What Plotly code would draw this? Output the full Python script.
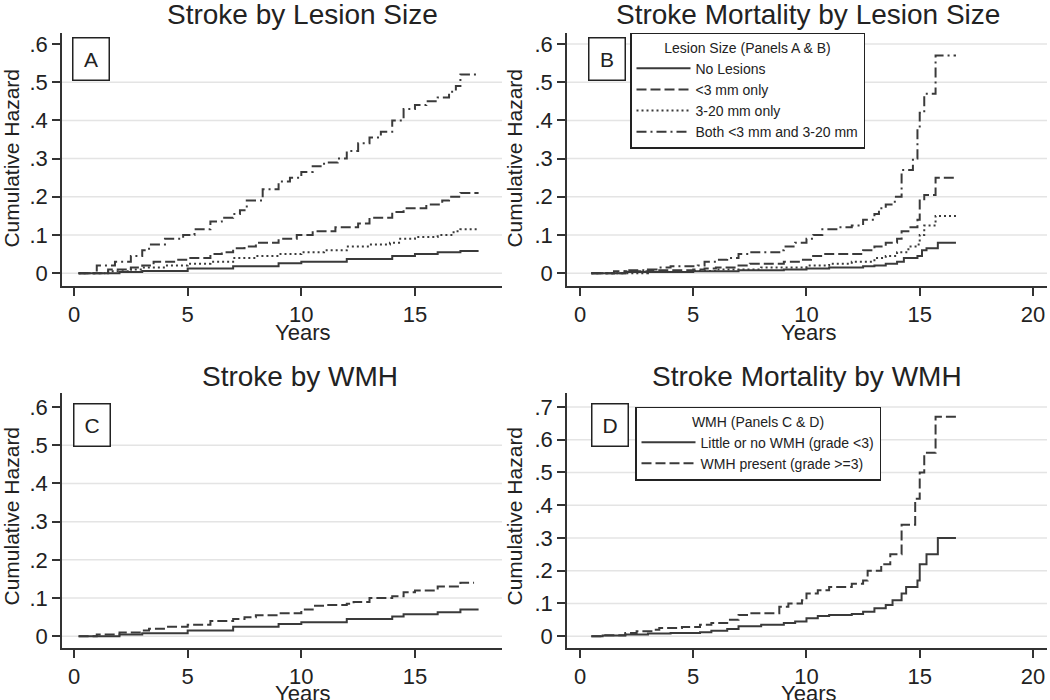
import plotly.graph_objects as go

# ---- data (years, cumulative hazard) ----
# Panel A: stroke by lesion size
a_none_t = [0.2, 2.0, 3.0, 5.0, 7.0, 9.0, 10.0, 12.0, 14.0, 15.0, 16.0, 17.0, 17.8]
a_none_h = [0, 0.003, 0.006, 0.012, 0.018, 0.026, 0.030, 0.037, 0.045, 0.050, 0.055, 0.058, 0.058]
a_small_t = [0.2, 1.5, 2.5, 3.0, 3.5, 4.5, 5.0, 6.0, 6.5, 7.0, 7.5, 8.0, 9.0, 9.8, 10.5,
             11.5, 12.5, 13.0, 14.0, 14.5, 15.5, 16.2, 16.5, 17.0, 17.8]
a_small_h = [0, 0.01, 0.015, 0.02, 0.03, 0.035, 0.04, 0.05, 0.055, 0.065, 0.07, 0.08, 0.09, 0.10,
             0.11, 0.12, 0.13, 0.145, 0.16, 0.17, 0.18, 0.19, 0.20, 0.21, 0.21]
a_mid_t = [0.2, 1.5, 2.5, 3.0, 4.0, 5.0, 6.0, 7.0, 8.0, 9.0, 10.0, 11.0, 12.0, 13.0, 13.9,
           14.3, 15.0, 16.0, 16.7, 17.0, 17.8]
a_mid_h = [0, 0.005, 0.01, 0.015, 0.02, 0.025, 0.03, 0.04, 0.045, 0.05, 0.055, 0.06, 0.07, 0.075,
           0.08, 0.09, 0.095, 0.10, 0.11, 0.115, 0.115]
a_both_t = [0.2, 1.0, 1.8, 2.5, 3.0, 3.3, 4.0, 4.8, 5.3, 6.0, 6.5, 7.0, 7.3, 7.6, 8.3, 9.0, 9.5,
            10.0, 10.5, 11.0, 11.6, 12.0, 12.5, 13.0, 13.5, 14.0, 14.5, 15.0, 15.5, 16.0, 16.5,
            16.8, 17.0, 17.8]
a_both_h = [0, 0.02, 0.03, 0.045, 0.06, 0.075, 0.09, 0.10, 0.115, 0.135, 0.145, 0.155, 0.165,
            0.19, 0.22, 0.24, 0.25, 0.265, 0.28, 0.29, 0.30, 0.32, 0.34, 0.355, 0.37, 0.40, 0.43,
            0.44, 0.45, 0.46, 0.475, 0.49, 0.52, 0.52]

# Panel B: stroke mortality by lesion size
b_none_t = [0.5, 2.0, 5.0, 7.0, 9.0, 10.0, 11.0, 12.5, 13.0, 13.5, 14.0, 14.3, 14.9, 15.1,
            15.3, 15.8, 16.6]
b_none_h = [0, 0.003, 0.005, 0.008, 0.01, 0.012, 0.015, 0.018, 0.02, 0.025, 0.03, 0.04, 0.045,
            0.06, 0.065, 0.08, 0.08]
b_small_t = [0.5, 2.0, 3.0, 5.0, 5.5, 6.0, 7.0, 7.5, 9.0, 9.8, 10.2, 10.7, 12.5, 13.0, 13.5,
             14.0, 14.2, 14.5, 14.9, 15.0, 15.2, 15.7, 16.6]
b_small_h = [0, 0.005, 0.008, 0.01, 0.012, 0.015, 0.02, 0.025, 0.03, 0.035, 0.045, 0.05, 0.06,
             0.07, 0.08, 0.09, 0.11, 0.12, 0.14, 0.19, 0.205, 0.25, 0.25]
b_mid_t = [0.5, 3.0, 5.0, 6.0, 8.0, 10.0, 11.0, 12.0, 13.0, 13.5, 14.0, 14.5, 14.9, 15.0,
           15.2, 15.7, 16.6]
b_mid_h = [0, 0.003, 0.006, 0.01, 0.015, 0.02, 0.025, 0.03, 0.04, 0.045, 0.055, 0.07, 0.075,
           0.10, 0.125, 0.15, 0.15]
b_both_t = [0.5, 1.5, 2.0, 3.0, 3.5, 4.0, 5.2, 5.5, 6.0, 6.5, 7.0, 7.5, 8.8, 9.0, 9.5, 10.0,
            10.3, 10.7, 11.5, 12.0, 12.5, 13.0, 13.2, 13.5, 13.9, 14.2, 14.7, 14.9, 15.0, 15.2,
            15.7, 16.6]
b_both_h = [0, 0.005, 0.008, 0.01, 0.015, 0.018, 0.02, 0.03, 0.035, 0.04, 0.05, 0.055, 0.06,
            0.07, 0.08, 0.09, 0.10, 0.115, 0.12, 0.125, 0.14, 0.155, 0.17, 0.18, 0.20, 0.27,
            0.30, 0.38, 0.42, 0.47, 0.57, 0.57]

# Panel C: stroke by WMH
c_low_t = [0.2, 2.0, 3.0, 5.0, 7.0, 9.0, 10.0, 12.0, 14.0, 14.5, 16.0, 17.0, 17.8]
c_low_h = [0, 0.005, 0.008, 0.015, 0.025, 0.032, 0.037, 0.045, 0.052, 0.058, 0.063, 0.07, 0.07]
c_high_t = [0.2, 1.0, 2.0, 3.0, 3.3, 4.0, 5.0, 6.0, 7.0, 7.5, 8.0, 9.0, 10.0, 10.5, 11.0, 12.0,
            12.3, 13.0, 14.0, 14.5, 15.0, 16.0, 17.0, 17.6]
c_high_h = [0, 0.005, 0.01, 0.015, 0.02, 0.025, 0.03, 0.04, 0.045, 0.05, 0.055, 0.06, 0.07, 0.08,
            0.082, 0.085, 0.09, 0.10, 0.105, 0.115, 0.12, 0.13, 0.14, 0.14]

# Panel D: stroke mortality by WMH
d_low_t = [0.5, 1.0, 2.0, 3.0, 4.0, 5.3, 5.8, 6.5, 7.0, 8.0, 9.0, 9.5, 10.0, 10.5, 11.0, 12.0,
           12.5, 13.0, 13.5, 13.8, 14.2, 14.4, 14.9, 15.0, 15.3, 15.8, 16.6]
d_low_h = [0, 0.002, 0.005, 0.008, 0.01, 0.012, 0.017, 0.022, 0.03, 0.035, 0.04, 0.045, 0.055,
           0.062, 0.065, 0.068, 0.075, 0.085, 0.095, 0.11, 0.13, 0.15, 0.17, 0.22, 0.25, 0.30, 0.30]
d_high_t = [0.5, 1.0, 2.0, 2.5, 3.3, 3.5, 4.5, 5.3, 5.8, 6.5, 7.0, 7.5, 8.8, 9.2, 9.8, 10.0,
            10.5, 11.0, 12.0, 12.5, 12.7, 13.3, 13.7, 14.2, 14.8, 15.0, 15.2, 15.7, 16.6]
d_high_h = [0, 0.003, 0.01, 0.015, 0.02, 0.025, 0.028, 0.035, 0.04, 0.05, 0.065, 0.07, 0.09, 0.10,
            0.11, 0.13, 0.14, 0.15, 0.16, 0.17, 0.20, 0.22, 0.25, 0.34, 0.42, 0.50, 0.56, 0.67, 0.67]

lesion_names = ["No Lesions", "&lt;3 mm only", "3-20 mm only", "Both &lt;3 mm and 3-20 mm"]
wmh_names = ["Little or no WMH (grade &lt;3)", "WMH present (grade &gt;=3)"]
titles = ["Stroke by Lesion Size", "Stroke Mortality by Lesion Size",
          "Stroke by WMH", "Stroke Mortality by WMH"]
panel_letters = ["A", "B", "C", "D"]
ticks6 = [0, 0.1, 0.2, 0.3, 0.4, 0.5, 0.6]
ticks7 = [0, 0.1, 0.2, 0.3, 0.4, 0.5, 0.6, 0.7]

FONT = "Liberation Sans, Arial, sans-serif"
INK = "#3a3a3a"
DASHES = ["solid", "10px,4px", "2px,3px", "10px,4px,2px,4px"]

W, H = 1050, 700


def px(x, y):
    return x / W, 1 - y / H


fig = go.Figure()


def add_curve(t, h, name, dash, ax, legend=None):
    fig.add_trace(go.Scatter(
        x=t, y=h, mode="lines", name=name, line_shape="hv",
        line=dict(color=INK, width=2, dash=dash),
        xaxis="x" + ax, yaxis="y" + ax,
        showlegend=legend is not None, legend=legend or "legend",
    ))


lesion_a = [(a_none_t, a_none_h), (a_small_t, a_small_h), (a_mid_t, a_mid_h), (a_both_t, a_both_h)]
lesion_b = [(b_none_t, b_none_h), (b_small_t, b_small_h), (b_mid_t, b_mid_h), (b_both_t, b_both_h)]
for i, (t, h) in enumerate(lesion_a):
    add_curve(t, h, lesion_names[i], DASHES[i], "")
for i, (t, h) in enumerate(lesion_b):
    add_curve(t, h, lesion_names[i], DASHES[i], "2", legend="legend")
wmh_c = [(c_low_t, c_low_h), (c_high_t, c_high_h)]
wmh_d = [(d_low_t, d_low_h), (d_high_t, d_high_h)]
for i, (t, h) in enumerate(wmh_c):
    add_curve(t, h, wmh_names[i], DASHES[i], "3")
for i, (t, h) in enumerate(wmh_d):
    add_curve(t, h, wmh_names[i], DASHES[i], "4", legend="legend2")


def xax(domain, rng, ticks, anchor):
    return dict(domain=domain, range=rng, tickvals=ticks, ticktext=[str(v) for v in ticks],
                showline=True, linecolor="#333", linewidth=1.5, ticks="outside", ticklen=8,
                tickcolor="#333", tickwidth=1.5, showgrid=False, zeroline=False,
                tickfont=dict(family=FONT, size=22, color="#222"), anchor=anchor)


def yax(domain, rng, ticks, anchor):
    labels = ["0" if v == 0 else ("%.1f" % v)[1:] for v in ticks]
    return dict(domain=domain, range=rng, tickvals=ticks, ticktext=labels,
                showline=True, linecolor="#333", linewidth=1.5, ticks="outside", ticklen=8,
                tickcolor="#333", tickwidth=1.5, showgrid=False, zeroline=False,
                tickfont=dict(family=FONT, size=22, color="#222"), anchor=anchor)


left = [62 / W, 502 / W]
right = [567 / W, 1047 / W]
top = [1 - 286 / H, 1 - 32 / H]
bottom = [1 - 649 / H, 1 - 393 / H]

legend_style = dict(
    xanchor="left", yanchor="top", bgcolor="white", bordercolor="#222", borderwidth=1.5,
    itemwidth=54, font=dict(family=FONT, size=14, color="#222"),
)

fig.update_layout(
    width=W, height=H, margin=dict(l=0, r=0, t=0, b=0),
    paper_bgcolor="white", plot_bgcolor="white",
    xaxis=xax(left, [-0.53, 18.83], [0, 5, 10, 15], "y"),
    yaxis=yax(top, [-0.034, 0.629], ticks6, "x"),
    xaxis2=xax(right, [-0.574, 20.62], [0, 5, 10, 15, 20], "y2"),
    yaxis2=yax(top, [-0.034, 0.629], ticks6, "x2"),
    xaxis3=xax(left, [-0.53, 18.83], [0, 5, 10, 15], "y3"),
    yaxis3=yax(bottom, [-0.031, 0.637], ticks6, "x3"),
    xaxis4=xax(right, [-0.574, 20.62], [0, 5, 10, 15, 20], "y4"),
    yaxis4=yax(bottom, [-0.0365, 0.743], ticks7, "x4"),
    legend=dict(
        x=630 / W, y=1 - 32 / H,
        title=dict(text="Lesion Size (Panels A & B)", side="top center",
                   font=dict(family=FONT, size=14, color="#222")),
        **legend_style,
    ),
    legend2=dict(
        x=635 / W, y=1 - 407 / H,
        title=dict(text="WMH (Panels C & D)", side="top center",
                   font=dict(family=FONT, size=14, color="#222")),
        **legend_style,
    ),
)

# horizontal gridlines (the left panels have none at the top tick)
grid_sets = [("", ticks6[:-1]), ("2", ticks6), ("3", ticks6[:-1]), ("4", ticks7)]
for ax, vals in grid_sets:
    for v in vals:
        fig.add_shape(type="line", xref="x" + ax + " domain", yref="y" + ax,
                      x0=0, x1=1, y0=v, y1=v, layer="below",
                      line=dict(color="#e4e4e4", width=1.5))

# panel titles
title_pos = [(302, 14), (808, 14), (300, 377), (807, 377)]
for text, (x, y) in zip(titles, title_pos):
    ax_, ay_ = px(x, y)
    fig.add_annotation(text=text, x=ax_, y=ay_, xref="paper", yref="paper", showarrow=False,
                       xanchor="center", yanchor="middle",
                       font=dict(family=FONT, size=28, color="#222"))

# axis titles
for (x, y) in [(302, 332), (808, 332), (302, 694), (808, 694)]:
    ax_, ay_ = px(x, y)
    fig.add_annotation(text="Years", x=ax_, y=ay_, xref="paper", yref="paper", showarrow=False,
                       xanchor="center", yanchor="middle",
                       font=dict(family=FONT, size=22, color="#222"))
for (x, y) in [(12, 158), (515, 158), (12, 517), (515, 517)]:
    ax_, ay_ = px(x, y)
    fig.add_annotation(text="Cumulative Hazard", x=ax_, y=ay_, xref="paper", yref="paper",
                       showarrow=False, textangle=-90, xanchor="center", yanchor="middle",
                       font=dict(family=FONT, size=21, color="#222"))

# panel letters in boxes
letter_pos = [(90.5, 58.5), (606.5, 58.5), (91.5, 425), (610, 425)]
for text, (x, y) in zip(panel_letters, letter_pos):
    ax_, ay_ = px(x, y)
    fig.add_annotation(text=text, x=ax_, y=ay_, xref="paper", yref="paper", showarrow=False,
                       xanchor="center", yanchor="middle", width=33, height=39,
                       bordercolor="#222", borderwidth=1.5, bgcolor="white",
                       font=dict(family=FONT, size=21, color="#222"))

# drop the page's default 8px body margin so the figure sits at the window corner
fig.write_html("out.html", config={"displayModeBar": False},
               post_script="document.body.style.margin='0';")
